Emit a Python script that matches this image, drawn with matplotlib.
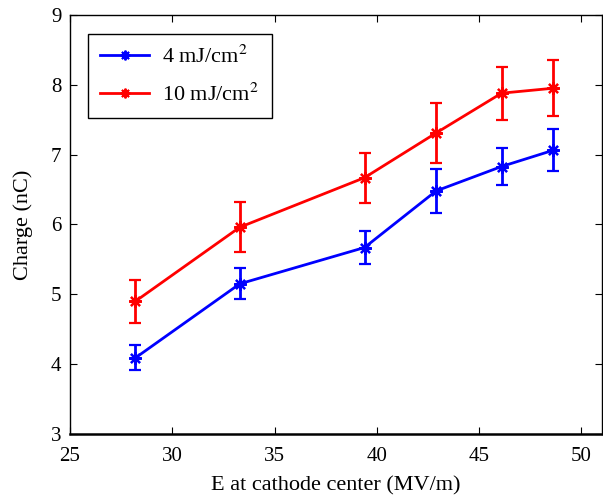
import matplotlib
matplotlib.use("Agg")
import matplotlib.pyplot as plt
from matplotlib.lines import Line2D

plt.rcParams["font.family"] = ["Liberation Serif", "DejaVu Serif"]
plt.rcParams["mathtext.fontset"] = "stix"

# data
field = [28.2, 33.3, 39.4, 42.9, 46.1, 48.6]
q_4mj = [4.09, 5.15, 5.67, 6.48, 6.83, 7.06]
err_4mj = [0.18, 0.22, 0.24, 0.31, 0.27, 0.30]
q_10mj = [4.90, 5.96, 6.67, 7.31, 7.88, 7.95]
err_10mj = [0.31, 0.36, 0.36, 0.43, 0.38, 0.40]
labels = ["4 mJ/cm$^2$", "10 mJ/cm$^2$"]
colors = ["#0000ff", "#ff0000"]

fig = plt.figure(figsize=(6.03, 4.98), dpi=100)
ax = fig.add_axes([0.116, 0.1285, 0.882, 0.8415])

mk = (8, 2, 0)  # matlab-style asterisk
style = dict(marker=mk, markersize=9, markeredgewidth=1.6, linewidth=2,
             elinewidth=2, capsize=4, capthick=2)
ax.errorbar(field, q_4mj, yerr=err_4mj, color=colors[0], **style)
ax.errorbar(field, q_10mj, yerr=err_10mj, color=colors[1], **style)

ax.set_xlim(25, 51)
ax.set_ylim(3, 9)
ax.set_xticks([25, 30, 35, 40, 45, 50])
ax.set_yticks([3, 4, 5, 6, 7, 8, 9])
ax.tick_params(direction="in", top=True, right=True, labelsize=15, length=5)
ax.tick_params(axis="x", pad=9)
ax.tick_params(axis="y", pad=6)
ax.set_xlabel("E at cathode center (MV/m)", fontsize=16, labelpad=8)
ax.set_ylabel("Charge (nC)", fontsize=16, labelpad=13)
for s in ax.spines.values():
    s.set_linewidth(1)
ax.spines["bottom"].set_linewidth(1.8)

handles = [Line2D([], [], color=c, marker=mk, markersize=7, markeredgewidth=1.4,
                  linewidth=2) for c in colors]
leg = ax.legend(handles, labels, loc="upper left",
                bbox_to_anchor=(0.034, 0.955), fontsize=16,
                fancybox=False, edgecolor="black", framealpha=1,
                handlelength=2.2, handletextpad=0.6, borderpad=0.55,
                labelspacing=0.68, borderaxespad=0)
leg.get_frame().set_linewidth(1)

fig.savefig("out.png", dpi=100)
